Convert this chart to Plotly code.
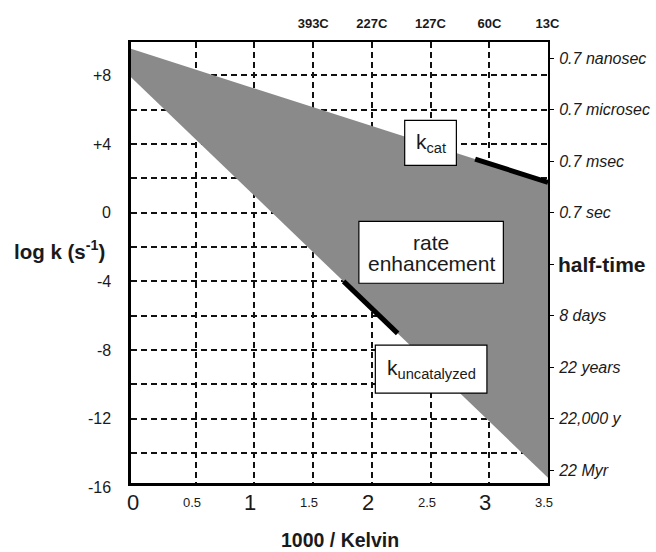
import plotly.graph_objects as go

# ---------------- data ----------------
inv_T_bounds = [-0.05, 3.5]            # 1000/K at the two ends of the band
kcat_logk = [9.55, 1.77]               # upper edge (k_cat)
kunc_logk = [7.9, -15.45]              # lower edge (k_uncatalyzed)
kcat_seg_x = [2.88, 3.5]
kcat_seg_logk = [3.13, 1.77]
kunc_seg_x = [1.76, 2.22]
kunc_seg_logk = [-4.0, -7.03]

logk_ticks = [8, 4, 0, -4, -8, -12, -16]
logk_labels = ["+8", "+4", "0", "-4", "-8", "-12", "-16"]
logk_grid = [-14, -12, -10, -8, -6, -4, -2, 0, 2, 4, 6, 8]
x_grid = [0.5, 1.0, 1.5, 2.0, 2.5, 3.0]
x_ticks = [0, 0.5, 1, 1.5, 2, 2.5, 3, 3.5]
x_labels = ["0", "0.5", "1", "1.5", "2", "2.5", "3", "3.5"]
temps_C = [393, 227, 127, 60, 13]
temp_labels = ["393C", "227C", "127C", "60C", "13C"]
halftime_logk = [9, 6, 3, 0, -3, -6, -9, -12, -15]
halftime_labels = ["0.7 nanosec", "0.7 microsec", "0.7 msec", "0.7 sec", "",
                   "8 days", "22 years", "22,000 y", "22 Myr"]

FONT = "Liberation Sans, Arial, Helvetica, sans-serif"
GRAY = "#8a8a8a"
INK = "#1a1a1a"
XR = [-0.05, 3.5]
YR = [-15.75, 9.95]


def ypaper(v):
    return (v - YR[0]) / (YR[1] - YR[0])


temp_x = [1000.0 / (t + 273.15) for t in temps_C]

fig = go.Figure()

# rate-enhancement band
fig.add_trace(go.Scatter(
    x=[inv_T_bounds[0], inv_T_bounds[1], inv_T_bounds[1], inv_T_bounds[0]],
    y=[kcat_logk[0], kcat_logk[1], kunc_logk[1], kunc_logk[0]],
    fill="toself", fillcolor=GRAY, mode="lines", line=dict(width=0, color=GRAY),
    hoverinfo="skip", showlegend=False))

# measured segments
fig.add_trace(go.Scatter(x=kcat_seg_x, y=kcat_seg_logk, mode="lines",
                         line=dict(color="black", width=5), showlegend=False))
fig.add_trace(go.Scatter(x=kunc_seg_x, y=kunc_seg_logk, mode="lines",
                         line=dict(color="black", width=5), showlegend=False))

# traces to attach secondary axes
fig.add_trace(go.Scatter(x=[inv_T_bounds[1]] * len(halftime_logk), y=halftime_logk,
                         xaxis="x", yaxis="y2", mode="markers",
                         marker=dict(opacity=0), hoverinfo="skip", showlegend=False))
fig.add_trace(go.Scatter(x=temp_x, y=[None] * len(temp_x), xaxis="x2", yaxis="y",
                         mode="markers", marker=dict(opacity=0),
                         hoverinfo="skip", showlegend=False))

grid = dict(showgrid=True, gridcolor="#111111", gridwidth=1.5, griddash="6px,4px")

fig.update_layout(
    width=656, height=552,
    margin=dict(l=131, r=108, t=42, b=69, autoexpand=False),
    paper_bgcolor="white", plot_bgcolor="white",
    font=dict(family=FONT, color=INK),
    showlegend=False,
    xaxis=dict(range=XR, tickvals=x_grid, showticklabels=False, ticks="",
               showline=True, linecolor="black", linewidth=3, zeroline=False,
               automargin=False, **grid),
    yaxis=dict(range=YR, tickvals=logk_grid, showticklabels=False, ticks="",
               showline=True, linecolor="black", linewidth=3, zeroline=False,
               automargin=False, **grid),
    xaxis2=dict(range=XR, overlaying="x", side="top", anchor="y",
                tickvals=temp_x, ticktext=["<b>%s</b>" % t for t in temp_labels],
                tickfont=dict(size=13, family=FONT, color=INK), ticks="",
                ticklabelstandoff=7, automargin=False,
                showline=True, linecolor="black", linewidth=2, showgrid=False,
                zeroline=False),
    yaxis2=dict(range=YR, overlaying="y", side="right", anchor="x",
                tickvals=halftime_logk,
                ticktext=["<i>%s</i>" % t if t else "" for t in halftime_labels],
                tickfont=dict(size=16, family=FONT, color=INK),
                ticks="outside", ticklen=4, tickwidth=1, tickcolor="black",
                ticklabelstandoff=2, automargin=False,
                showline=True, linecolor="black", linewidth=2, showgrid=False,
                zeroline=False),
)

# boxes
boxes = [
    (2.28, 2.72, 2.76, 5.38),
    (1.89, 3.12, -4.11, -0.50),
    (2.03, 2.98, -10.51, -7.72),
]
for x0, x1, y0, y1 in boxes:
    fig.add_shape(type="rect", xref="x", yref="y", x0=x0, x1=x1, y0=y0, y1=y1,
                  fillcolor="white", line=dict(color="black", width=1.2), layer="above")

ann = []
ann.append(dict(x=2.5, y=4.07, xref="x", yref="y", text="k<sub>cat</sub>",
                font=dict(size=21)))
ann.append(dict(x=2.505, y=-1.72, xref="x", yref="y", text="rate", font=dict(size=21)))
ann.append(dict(x=2.505, y=-2.94, xref="x", yref="y", text="enhancement",
                font=dict(size=21)))
ann.append(dict(x=2.505, y=-9.1, xref="x", yref="y", text="k<sub>uncatalyzed</sub>",
                font=dict(size=21)))

# left tick labels
for v, t in zip(logk_ticks, logk_labels):
    ann.append(dict(x=-0.043, y=ypaper(v), xref="paper", yref="paper", text=t,
                    xanchor="right", font=dict(size=16)))
# bottom tick labels
for v, t in zip(x_ticks, x_labels):
    big = "." not in t
    ann.append(dict(x=v, y=-0.045, xref="x", yref="paper", text=t, xshift=-4,
                    font=dict(size=22 if big else 13)))
# axis titles
ann.append(dict(x=-0.285, y=-2.2, xref="paper", yref="y",
                text="<b>log k (s<sup>-1</sup>)</b>", xanchor="left",
                font=dict(size=20.5)))
ann.append(dict(x=0.501, y=-0.1555, xref="paper", yref="paper", yanchor="bottom",
                borderpad=0, text="<b>1000 / Kelvin</b>", font=dict(size=19.5)))
ann.append(dict(x=1.02, y=-3, xref="paper", yref="y",
                text="<b>half-time</b>", xanchor="left", font=dict(size=21)))

for a in ann:
    a.setdefault("showarrow", False)
    a.setdefault("xanchor", "center")
    a.setdefault("yanchor", "middle")
    a["font"] = dict(family=FONT, color=INK, **a["font"])
fig.update_layout(annotations=ann)

fig.write_html("out.html")
